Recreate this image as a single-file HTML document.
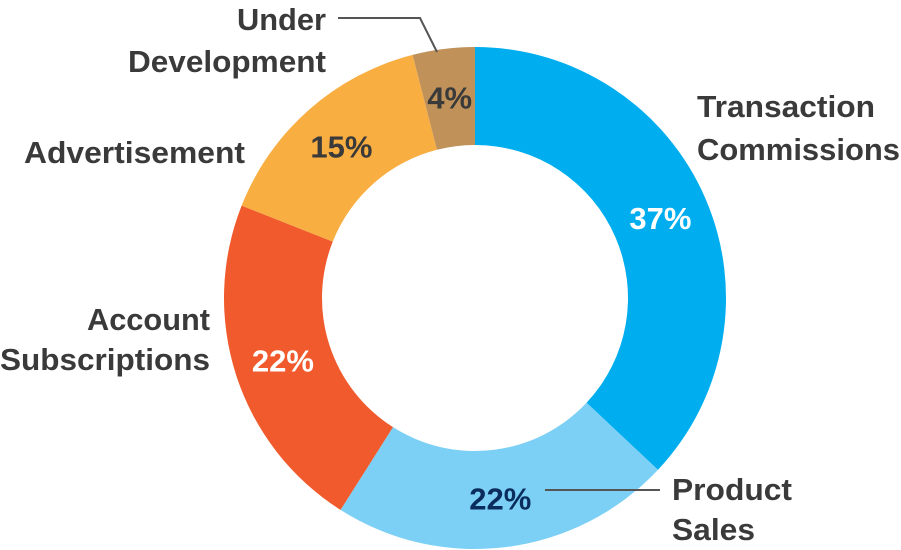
<!DOCTYPE html>
<html><head><meta charset="utf-8"><style>
html,body{margin:0;padding:0;background:#fff;}
svg{display:block;}
text{font-family:"Liberation Sans Narrow","Liberation Sans",sans-serif;font-weight:bold;}
</style></head><body>
<svg id="chart" width="901" height="550" viewBox="0 0 901 550">
<g id="slices"></g>
<g id="pcts"></g>
<g fill="#3a3a3a" font-size="31">
<text x="697" y="117" textLength="178" lengthAdjust="spacingAndGlyphs">Transaction</text>
<text x="697" y="160" textLength="203" lengthAdjust="spacingAndGlyphs">Commissions</text>
<text x="672" y="500" textLength="120" lengthAdjust="spacingAndGlyphs">Product</text>
<text x="672" y="540" textLength="83" lengthAdjust="spacingAndGlyphs">Sales</text>
<text x="87" y="330" textLength="123" lengthAdjust="spacingAndGlyphs">Account</text>
<text x="0" y="370" textLength="210" lengthAdjust="spacingAndGlyphs">Subscriptions</text>
<text x="24" y="163" textLength="221" lengthAdjust="spacingAndGlyphs">Advertisement</text>
<text x="237" y="30" textLength="89" lengthAdjust="spacingAndGlyphs">Under</text>
<text x="128" y="72" textLength="198" lengthAdjust="spacingAndGlyphs">Development</text>
</g>
<polyline points="338,18 420,18 437,52" fill="none" stroke="#555" stroke-width="2"/>
<line x1="545" y1="490" x2="660" y2="490" stroke="#555" stroke-width="2"/>
</svg>
<script>
const categories = ["Transaction Commissions","Product Sales","Account Subscriptions","Advertisement","Under Development"];
const values = [37,22,22,15,4];
const colors = ["#00AEEF","#7DD0F5","#F05A2C","#F9AE42","#C0925A"];
const labelColors = ["#ffffff","#0B2D5E","#ffffff","#3a3a3a","#3a3a3a"];
const cx=475, cy=298, R=251, r=153;
const NS="http://www.w3.org/2000/svg";
const total=values.reduce((a,b)=>a+b,0);
function pt(a,rad){return [cx+rad*Math.sin(a), cy-rad*Math.cos(a)];}
let acc=0;
const gS=document.getElementById('slices'), gP=document.getElementById('pcts');
values.forEach((v,i)=>{
  const a0=acc/total*2*Math.PI; acc+=v; const a1=acc/total*2*Math.PI;
  const large=(a1-a0)>Math.PI?1:0;
  const [x0,y0]=pt(a0,R),[x1,y1]=pt(a1,R),[x2,y2]=pt(a1,r),[x3,y3]=pt(a0,r);
  const p=document.createElementNS(NS,'path');
  p.setAttribute('d',`M${x0},${y0}A${R},${R} 0 ${large} 1 ${x1},${y1}L${x2},${y2}A${r},${r} 0 ${large} 0 ${x3},${y3}Z`);
  p.setAttribute('fill',colors[i]);
  
  
  gS.appendChild(p);
  const am=(a0+a1)/2; const [tx,ty]=pt(am,(R+r)/2);
  const t=document.createElementNS(NS,'text');
  t.setAttribute('x',tx); t.setAttribute('y',ty+11);
  t.setAttribute('text-anchor','middle'); t.setAttribute('font-size','31');
  t.setAttribute('fill',labelColors[i]);
  t.textContent=v+'%';
  
  
  gP.appendChild(t);
});
</script>
</body></html>
